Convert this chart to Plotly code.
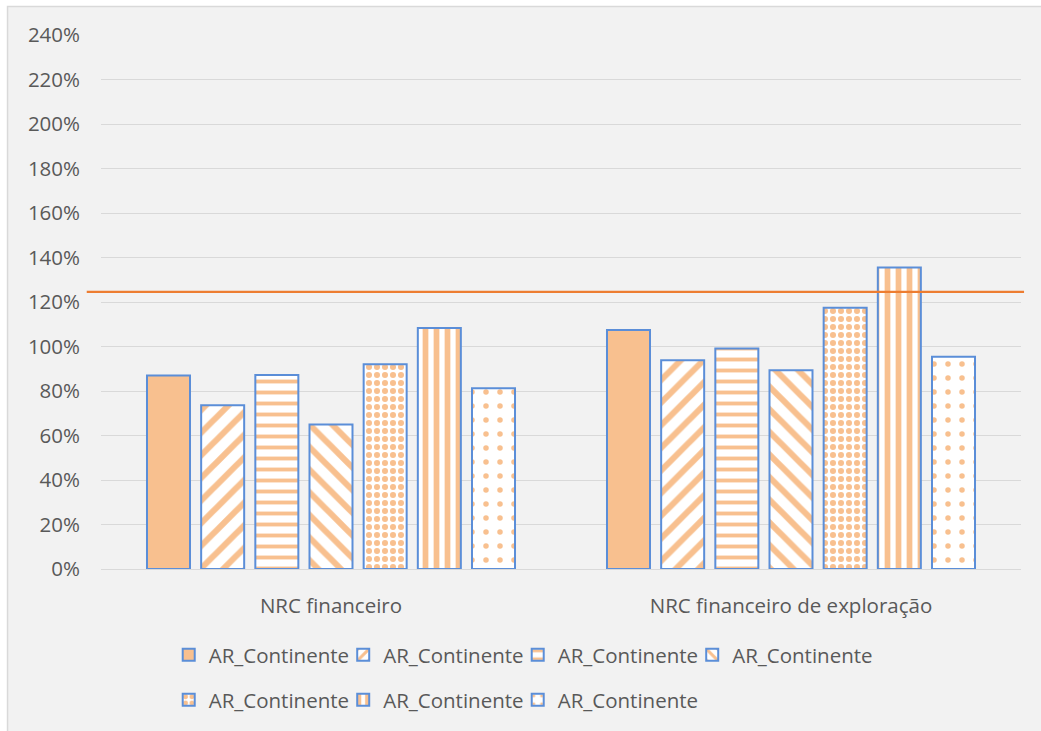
import plotly.graph_objects as go

# Categories and values (ratio, 1.0 = 100%)
categories = ["NRC financeiro", "NRC financeiro de exploração"]
series_names = ["AR_Continente"] * 7
fin_values = [0.870, 0.736, 0.872, 0.650, 0.920, 1.083, 0.812]
expl_values = [1.074, 0.938, 0.991, 0.893, 1.174, 1.355, 0.954]
reference_level = 1.245

y_tick_values = [i / 10 for i in range(0, 25, 2)]

ORANGE = "#F8C08F"
BLUE = "#5B8ED8"
TEXT = "#595959"
GRID = "#D9D9D9"
FONT = "Open Sans"
FS = 20.5

# fill pattern for each series: (shape, size, solidity)
patterns = [
    None,
    ("/", 16, 0.38),
    ("-", 11, 0.35),
    ("\\", 16, 0.38),
    (".", 8, 0.45),
    ("|", 11, 0.52),
    (".", 14, 0.12),
]

fig = go.Figure()
for i, name in enumerate(series_names):
    pat = patterns[i]
    if pat is None:
        marker = dict(color=ORANGE, line=dict(color=BLUE, width=2))
    else:
        shape, size, solidity = pat
        marker = dict(
            color="white",
            line=dict(color=BLUE, width=2),
            pattern=dict(shape=shape, size=size, solidity=solidity,
                         fgcolor=ORANGE, bgcolor="white", fillmode="replace"),
        )
    last_in_row = i in (3, 6)
    fig.add_trace(go.Bar(
        x=categories,
        y=[fin_values[i], expl_values[i]],
        name=name,
        marker=marker,
        legend="legend" if i < 4 else "legend2",
        legendwidth=170 if last_in_row else None,
        hoverinfo="skip",
    ))

# reference level line across the chart
fig.add_shape(type="line", xref="paper", yref="y",
              x0=-0.0155, x1=1.0033, y0=reference_level, y1=reference_level,
              line=dict(color="#ED7D31", width=2.25), layer="above")

# chart area panel with its light border
fig.add_shape(type="rect", xref="paper", yref="paper",
              x0=-0.1016, x1=1.03, y0=-0.31, y1=1.0533,
              fillcolor="#F2F2F2", line=dict(color=GRID, width=1.5), layer="below")

legend_common = dict(
    orientation="h", xanchor="left", yanchor="middle",
    font=dict(family=FONT, size=FS, color=TEXT),
    bgcolor="rgba(0,0,0,0)", entrywidth=129.5, entrywidthmode="pixels",
    itemclick=False, itemdoubleclick=False,
)

fig.update_layout(
    width=1041, height=731,
    margin=dict(l=101, r=20, t=35, b=161),
    paper_bgcolor="white",
    plot_bgcolor="rgba(0,0,0,0)",
    font=dict(family=FONT, size=FS, color=TEXT),
    barmode="group",
    bargap=0.1757,
    bargroupgap=0.206,
    showlegend=True,
    legend=dict(x=0.0736, y=-0.1589, **legend_common),
    legend2=dict(x=0.0736, y=-0.243, **legend_common),
)

fig.update_yaxes(
    range=[0, 2.4],
    tickvals=y_tick_values,
    tickformat=".0%",
    showgrid=True, gridcolor=GRID, gridwidth=1.2,
    zeroline=False, showline=False, ticks="",
    ticklabelstandoff=20,
    tickfont=dict(family=FONT, size=FS, color=TEXT),
    fixedrange=True,
)
fig.update_xaxes(
    showgrid=False, showline=True, linecolor=GRID, linewidth=1.2,
    ticks="", ticklabelstandoff=18,
    tickfont=dict(family=FONT, size=FS, color=TEXT),
    fixedrange=True,
)

fig.write_html("out.html")
